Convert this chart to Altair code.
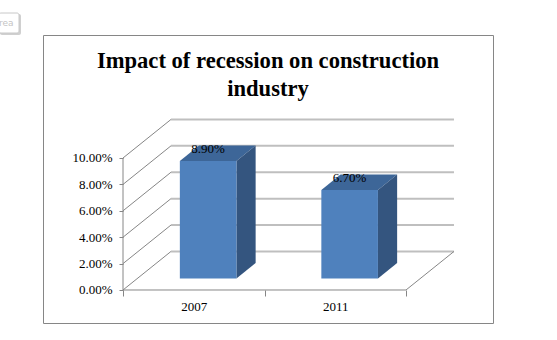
import json
import altair as alt
import pandas as pd

# ---- data ----
categories = ["2007", "2011"]
values = [0.089, 0.067]
y_ticks = [0.0, 0.02, 0.04, 0.06, 0.08, 0.10]
title_lines = ["Impact of recession on construction", "industry"]
tooltip_stub = ["rea"]   # clipped "Chart Area" hover box at the top-left

# ---- 3-D geometry (in category units / value units) ----
BAR_W = 0.4        # bar width as a share of a category (gap width 150%)
DEPTH_X = 0.339    # horizontal depth of the floor, in categories
DEPTH_Y = 0.0292   # vertical depth of the floor, in value units
FRONT, BACK = 0.3, 0.7
N = len(categories)

W, H = 450, 288
X_DOM = [-0.5654, 2.6148]
Y_DOM = [-0.025, 0.19318]
xs = alt.Scale(domain=X_DOM, nice=False, zero=False)
ys = alt.Scale(domain=Y_DOM, nice=False, zero=False)
px_per_cat = W / (X_DOM[1] - X_DOM[0])
px_per_val = H / (Y_DOM[1] - Y_DOM[0])

FONT = "'Liberation Serif', 'Times New Roman', 'DejaVu Serif', serif"
AXIS_GRAY = "#868686"

yaxis = alt.Axis(orient="left", offset=-round(-X_DOM[0] * px_per_cat), values=y_ticks,
                 format=".2%", domain=False, grid=False, tickSize=4, tickColor=AXIS_GRAY,
                 labelFont=FONT, labelFontSize=13, labelColor="#000000", labelPadding=7,
                 title=None)
xaxis = alt.Axis(orient="bottom", offset=-round(-Y_DOM[0] * px_per_val),
                 values=list(range(N + 1)),
                 labelExpr=json.dumps(categories).replace('"', "'") + "[datum.value] || ''",
                 labelOffset=px_per_cat / 2, labelFlush=False, labelOverlap=False,
                 domain=False, grid=False, tickSize=6, tickColor=AXIS_GRAY,
                 labelFont=FONT, labelFontSize=13, labelColor="#000000", labelPadding=4,
                 title=None)


def X(f):
    return alt.X(f, type="quantitative", scale=xs, axis=xaxis)


def Y(f):
    return alt.Y(f, type="quantitative", scale=ys, axis=yaxis)


# ---- walls ----
back_grid = pd.DataFrame({"x": [DEPTH_X] * len(y_ticks), "x2": [N + DEPTH_X] * len(y_ticks),
                          "y": [t + DEPTH_Y for t in y_ticks]})
diag = pd.DataFrame({
    "x": [0.0] * len(y_ticks) + [float(N)],
    "x2": [DEPTH_X] * len(y_ticks) + [N + DEPTH_X],
    "y": list(y_ticks) + [0.0],
    "y2": [t + DEPTH_Y for t in y_ticks] + [DEPTH_Y],
})
front_lines = pd.DataFrame({"x": [0.0, 0.0], "x2": [float(N), 0.0],
                            "y": [0.0, 0.0], "y2": [0.0, max(y_ticks)]})

# ---- bars ----
rows_front, rows_side, rows_top, rows_lab = [], [], [], []
for i, (c, v) in enumerate(zip(categories, values)):
    mid = i + 0.5
    l, r = mid - BAR_W / 2, mid + BAR_W / 2
    rows_front.append({"cat": c, "x": l + FRONT * DEPTH_X, "x2": r + FRONT * DEPTH_X,
                       "y": FRONT * DEPTH_Y, "y2": v + FRONT * DEPTH_Y})
    for d in (FRONT, BACK):
        rows_side.append({"cat": c, "x": r + d * DEPTH_X, "y": d * DEPTH_Y, "y2": v + d * DEPTH_Y})
        rows_top.append({"cat": c, "y": v + d * DEPTH_Y, "x": l + d * DEPTH_X, "x2": r + d * DEPTH_X})
    rows_lab.append({"cat": c, "v": v, "x": mid + FRONT * DEPTH_X, "y": v + 0.5 * DEPTH_Y})

front = pd.DataFrame(rows_front)
side = pd.DataFrame(rows_side)
top = pd.DataFrame(rows_top)
labs = pd.DataFrame(rows_lab)
stub = pd.DataFrame({"t": tooltip_stub})

l_back = alt.Chart(back_grid).mark_rule(color="#BFBFBF", strokeWidth=2).encode(
    x=X("x"), x2="x2", y=Y("y"))
l_diag = alt.Chart(diag).mark_rule(color=AXIS_GRAY, strokeWidth=1).encode(
    x=X("x"), x2="x2", y=Y("y"), y2="y2")
l_front = alt.Chart(front_lines).mark_rule(color=AXIS_GRAY, strokeWidth=1).encode(
    x=X("x"), x2="x2", y=Y("y"), y2="y2")
l_top = alt.Chart(top).mark_area(orient="horizontal", color="#3D6698").encode(
    y=Y("y"), x=X("x"), x2="x2", detail="cat:N")
l_side = alt.Chart(side).mark_area(orient="vertical", color="#34557F").encode(
    x=X("x"), y=Y("y"), y2="y2", detail="cat:N")
l_bar = alt.Chart(front).mark_rect(color="#4F81BD").encode(
    x=X("x"), x2="x2", y=Y("y"), y2="y2")
l_lab = alt.Chart(labs).mark_text(font=FONT, fontSize=13, color="#000000",
                                  baseline="alphabetic", align="center").encode(
    x=X("x"), y=Y("y"), text=alt.Text("v:Q", format=".2%"))

# clipped hover-box stub outside the chart frame (top-left corner of the picture)
l_stub_shadow = alt.Chart(stub).mark_rect(fill="#D0D0D0", cornerRadius=2).encode(
    x=alt.value(-43), x2=alt.value(-22), y=alt.value(-21), y2=alt.value(0))
l_stub_box = alt.Chart(stub).mark_rect(fill="#FFFFFF", stroke="#C8C8C8", strokeWidth=1,
                                       cornerRadius=2).encode(
    x=alt.value(-44), x2=alt.value(-24), y=alt.value(-22), y2=alt.value(-2))
l_stub_text = alt.Chart(stub).mark_text(font="DejaVu Sans", fontSize=9, color="#C4C4C4",
                                        align="left", baseline="middle").encode(
    x=alt.value(-44), y=alt.value(-12), text="t:N")

chart = alt.layer(l_back, l_diag, l_front, l_top, l_side, l_bar, l_lab,
                  l_stub_shadow, l_stub_box, l_stub_text).properties(
    width=W, height=H,
    autosize=alt.AutoSizeParams(type="none"),
    padding={"left": 43, "top": 35, "right": 64, "bottom": 17},
    title=alt.TitleParams(text=title_lines, font=FONT, fontSize=22.6, fontWeight="bold",
                          color="#000000", anchor="middle", lineHeight=28, frame="group",
                          baseline="top", offset=0, dy=88, dx=0),
    background="white",
).configure_view(stroke=AXIS_GRAY, strokeWidth=1)

chart.save("out.html", embed_options={"renderer": "svg", "actions": False})
